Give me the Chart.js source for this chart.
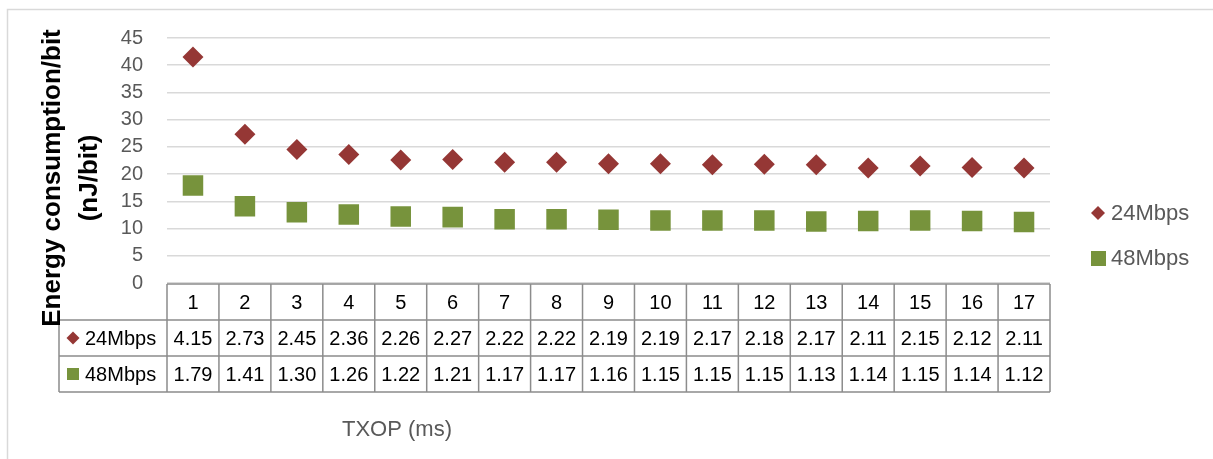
<!DOCTYPE html>
<html>
<head>
<meta charset="utf-8">
<title>Energy consumption per bit vs TXOP</title>
<script src="https://cdn.jsdelivr.net/npm/chart.js@4/dist/chart.umd.min.js"></script>
<style>
  html, body { margin: 0; padding: 0; background: #ffffff; }
  #wrap { width: 1213px; height: 459px; position: relative; }
</style>
</head>
<body>
<div id="wrap"><canvas id="chart" width="1213" height="459"></canvas></div>
<script>
// TXOP values (ms) along the horizontal axis / table header
const txop = ['1', '2', '3', '4', '5', '6', '7', '8', '9', '10', '11', '12', '13', '14', '15', '16', '17'];

// Energy consumption per bit (nJ/bit) for each data rate
const energy24 = [41.5, 27.3, 24.5, 23.6, 22.6, 22.7, 22.2, 22.2, 21.9, 21.9, 21.7, 21.8, 21.7, 21.1, 21.5, 21.2, 21.1];
const energy48 = [17.9, 14.1, 13.0, 12.6, 12.2, 12.1, 11.7, 11.7, 11.6, 11.5, 11.5, 11.5, 11.3, 11.4, 11.5, 11.4, 11.2];

// Series names
const seriesNames = ['24Mbps', '48Mbps'];

// The data table lists the values in units of 10 nJ/bit
const tableDivisor = 10;

const FONT = '"Liberation Sans", Arial, sans-serif';
const RED = '#953735';
const GREEN = '#77933C';
const GRID = '#d9d9d9';
const TABLE_LINE = '#8c8c8c';
const AXIS_TEXT = '#595959';

// Draws a marker the way the series uses it (diamond or square)
function drawMarker(ctx, kind, x, y, half, color) {
  ctx.save();
  ctx.fillStyle = color;
  ctx.beginPath();
  if (kind === 'diamond') {
    ctx.moveTo(x - half, y);
    ctx.lineTo(x, y - half);
    ctx.lineTo(x + half, y);
    ctx.lineTo(x, y + half);
    ctx.closePath();
  } else {
    ctx.rect(x - half, y - half, half * 2, half * 2);
  }
  ctx.fill();
  ctx.restore();
}

// Frame, axis titles, data table and legend
const decorations = {
  id: 'decorations',
  beforeDraw(chart) {
    const ctx = chart.ctx;
    ctx.save();
    ctx.fillStyle = '#ffffff';
    ctx.fillRect(0, 0, chart.width, chart.height);
    ctx.strokeStyle = GRID;
    ctx.lineWidth = 1.5;
    ctx.strokeRect(7.5, 9.5, chart.width + 20, chart.height + 20);
    ctx.restore();
  },
  afterDraw(chart) {
    const ctx = chart.ctx;
    const area = chart.chartArea;
    const xs = chart.scales.x;
    const n = txop.length;
    const colW = (area.right - area.left) / n;
    const rowH = 36;
    const top = area.bottom + 1;
    const labelLeft = 59;
    const rows = [top, top + rowH, top + rowH * 2, top + rowH * 3];

    ctx.save();

    // table grid
    ctx.strokeStyle = TABLE_LINE;
    ctx.lineWidth = 1.5;
    ctx.beginPath();
    ctx.moveTo(area.left, rows[0]);
    ctx.lineTo(area.right, rows[0]);
    for (let r = 1; r < rows.length; r++) {
      ctx.moveTo(labelLeft, rows[r]);
      ctx.lineTo(area.right, rows[r]);
    }
    ctx.moveTo(labelLeft, rows[1]);
    ctx.lineTo(labelLeft, rows[3]);
    for (let i = 0; i <= n; i++) {
      const x = area.left + i * colW;
      ctx.moveTo(x, rows[0]);
      ctx.lineTo(x, rows[3]);
    }
    ctx.stroke();

    // table text
    ctx.fillStyle = '#000000';
    ctx.font = '20px ' + FONT;
    ctx.textAlign = 'center';
    ctx.textBaseline = 'middle';
    const series = [energy24, energy48];
    for (let i = 0; i < n; i++) {
      const cx = xs.getPixelForValue(i);
      ctx.fillText(txop[i], cx, (rows[0] + rows[1]) / 2 + 1);
      for (let s = 0; s < series.length; s++) {
        const txt = (series[s][i] / tableDivisor).toFixed(2);
        ctx.fillText(txt, cx, (rows[s + 1] + rows[s + 2]) / 2 + 1);
      }
    }

    // row labels with markers
    ctx.textAlign = 'left';
    const r1 = (rows[1] + rows[2]) / 2;
    const r2 = (rows[2] + rows[3]) / 2;
    drawMarker(ctx, 'diamond', 73, r1, 6.5, RED);
    drawMarker(ctx, 'square', 73, r2, 6, GREEN);
    ctx.fillStyle = '#000000';
    ctx.fillText(seriesNames[0], 85, r1 + 1);
    ctx.fillText(seriesNames[1], 85, r2 + 1);

    // legend
    ctx.fillStyle = AXIS_TEXT;
    ctx.font = '22px ' + FONT;
    drawMarker(ctx, 'diamond', 1098, 213, 7, RED);
    drawMarker(ctx, 'square', 1098.5, 258.5, 7.5, GREEN);
    ctx.fillStyle = AXIS_TEXT;
    ctx.fillText(seriesNames[0], 1111, 214);
    ctx.fillText(seriesNames[1], 1111, 259);

    // x axis title
    ctx.textAlign = 'center';
    ctx.fillText('TXOP (ms)', 397, 430);

    // y axis title (two lines, rotated)
    ctx.translate(0, 178);
    ctx.rotate(-Math.PI / 2);
    ctx.fillStyle = '#000000';
    ctx.font = 'bold 26px ' + FONT;
    ctx.fillText('Energy consumption/bit', 0, 53);
    ctx.fillText('(nJ/bit)', 0, 90);

    ctx.restore();
  }
};

new Chart(document.getElementById('chart'), {
  type: 'line',
  data: {
    labels: txop,
    datasets: [
      {
        label: seriesNames[0],
        data: energy24,
        showLine: false,
        pointStyle: 'rectRot',
        pointRadius: 10.5,
        pointHoverRadius: 10.5,
        pointBackgroundColor: RED,
        pointBorderWidth: 0,
        borderColor: RED,
        backgroundColor: RED
      },
      {
        label: seriesNames[1],
        data: energy48,
        showLine: false,
        pointStyle: 'rect',
        pointRadius: 14.5,
        pointHoverRadius: 14.5,
        pointBackgroundColor: GREEN,
        pointBorderWidth: 0,
        borderColor: GREEN,
        backgroundColor: GREEN
      }
    ]
  },
  options: {
    responsive: false,
    animation: false,
    devicePixelRatio: 1,
    layout: { padding: { top: 38, right: 163, bottom: 176, left: 0 } },
    plugins: {
      legend: { display: false },
      tooltip: { enabled: false }
    },
    scales: {
      x: {
        display: false,
        offset: true
      },
      y: {
        min: 0,
        max: 45,
        afterFit(scale) { scale.width = 167; },
        border: { display: false },
        grid: {
          color: GRID,
          lineWidth: 1.5,
          drawTicks: false
        },
        ticks: {
          stepSize: 5,
          padding: 24,
          color: AXIS_TEXT,
          font: { family: FONT, size: 20 }
        }
      }
    }
  },
  plugins: [decorations]
});
</script>
</body>
</html>
